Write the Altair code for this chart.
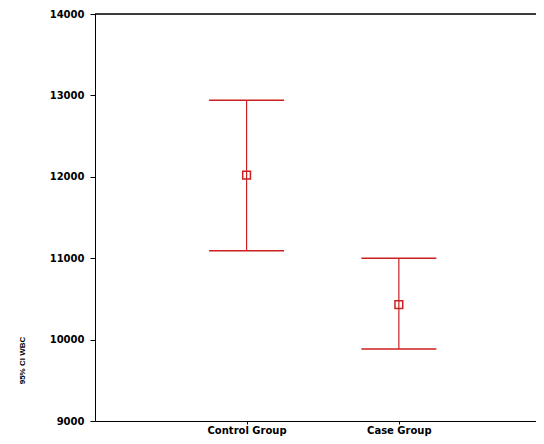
import altair as alt
import pandas as pd

groups = ["Control Group", "Case Group"]
means = [12020, 10430]
lower = [11090, 9885]
upper = [12940, 11000]

df = pd.DataFrame({"group": groups, "mean": means, "lower": lower, "upper": upper})

RED = "#cc1f1f"
FONT = "DejaVu Sans"

x = alt.X("group:N", sort=groups, title=None,
          scale=alt.Scale(type="point", padding=0.948, align=0.525),
          axis=alt.Axis(labelAngle=0, labelFont=FONT, labelFontWeight="bold",
                        labelFontSize=10, labelColor="black", tickSize=3,
                        tickColor="black", domainColor="black", labelPadding=1,
                        labelBaseline="top", grid=False))
yscale = alt.Scale(domain=[9000, 14000], nice=False, zero=False)

base = alt.Chart(df)

bars = base.mark_rule(color=RED, strokeWidth=1.2).encode(
    x=x,
    y=alt.Y("lower:Q", scale=yscale, title="95% CI WBC",
            axis=alt.Axis(values=[9000, 10000, 11000, 12000, 13000, 14000],
                          format="d", grid=False, tickSize=5, tickColor="black",
                          domainColor="black", labelFont=FONT, labelFontWeight="bold",
                          labelFontSize=10, labelColor="black", labelPadding=6,
                          titleFont="Liberation Sans", titleFontWeight="bold", titleFontSize=8,
                          titleColor="black", titleAngle=-90, titleX=-73, titleY=346,
                          titleAlign="center", titleBaseline="middle")),
    y2="upper:Q",
)
cap_lo = base.mark_tick(color=RED, size=75, thickness=1.5, opacity=1).encode(x=x, y=alt.Y("lower:Q", scale=yscale))
cap_hi = base.mark_tick(color=RED, size=75, thickness=1.5, opacity=1).encode(x=x, y=alt.Y("upper:Q", scale=yscale))
pts = base.mark_point(shape="square", filled=False, color=RED, size=60, strokeWidth=1.5, opacity=1).encode(
    x=x, y=alt.Y("mean:Q", scale=yscale))
top = base.mark_rule(color="black", strokeWidth=1).encode(y=alt.datum(14000))

chart = alt.layer(top, bars, cap_lo, cap_hi, pts).properties(
    width=441, height=407,
    autosize=alt.AutoSizeParams(type="none"),
    padding={"left": 87, "top": 6, "right": 0, "bottom": 15},
).configure_view(stroke=None).configure(background="white")

chart.save("out.html", embed_options={"renderer": "svg", "actions": False})
